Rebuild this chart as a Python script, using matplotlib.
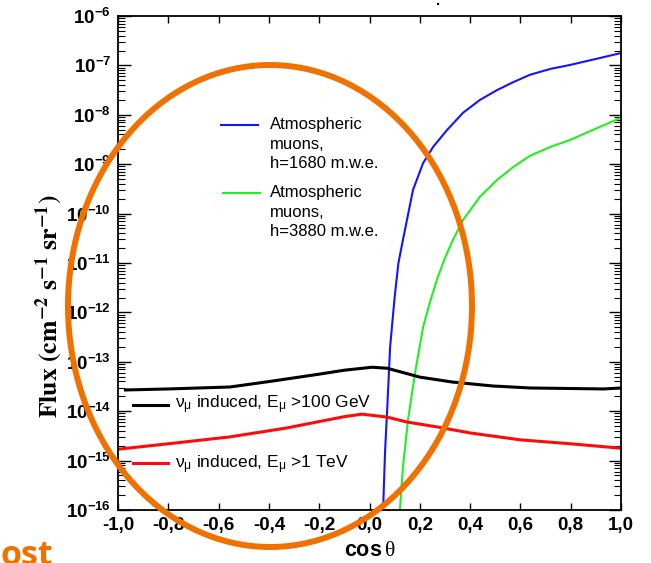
import numpy as np
import matplotlib
matplotlib.use("Agg")
import matplotlib.pyplot as plt
from matplotlib.patches import Ellipse
from matplotlib.ticker import LogLocator, NullFormatter

plt.rcParams["font.family"] = ["Liberation Sans", "DejaVu Sans"]
plt.rcParams["mathtext.fontset"] = "custom"
plt.rcParams["mathtext.rm"] = "Liberation Sans"
plt.rcParams["mathtext.it"] = "Liberation Sans:italic"
plt.rcParams["mathtext.bf"] = "Liberation Sans:bold"
plt.rcParams["mathtext.sf"] = "Liberation Serif"

# atmospheric muons, h=1680 m.w.e.
cos_1680 = [0.054, 0.062, 0.070, 0.082, 0.100, 0.115, 0.133, 0.141, 0.173,
            0.213, 0.253, 0.308, 0.372, 0.439, 0.507, 0.571, 0.638, 0.72,
            0.797, 0.9, 1.0]
flux_1680 = [1.0e-16, 1.58e-15, 1.0e-14, 2.0e-13, 2.04e-12, 1.0e-11, 2.95e-11,
             4.68e-11, 3.02e-10, 1.05e-9, 2.24e-9, 4.90e-9, 1.10e-8, 2.0e-8,
             3.16e-8, 4.57e-8, 6.46e-8, 8.51e-8, 1.02e-7, 1.35e-7, 1.78e-7]

# atmospheric muons, h=3880 m.w.e.
cos_3880 = [0.121, 0.133, 0.153, 0.181, 0.213, 0.24, 0.268, 0.30, 0.332,
            0.372, 0.439, 0.507, 0.571, 0.638, 0.72, 0.797, 0.9, 1.0]
flux_3880 = [1.0e-16, 7.41e-16, 6.61e-15, 5.89e-14, 5.01e-13, 1.58e-12,
             4.57e-12, 1.26e-11, 2.95e-11, 7.41e-11, 2.19e-10, 4.79e-10,
             8.71e-10, 1.48e-9, 2.24e-9, 3.09e-9, 5.25e-9, 8.71e-9]

# neutrino induced muons, E > 100 GeV
cos_nu100 = [-0.97, -0.8, -0.555, -0.4, -0.2, -0.1, 0.01, 0.07, 0.2, 0.33,
             0.49, 0.64, 0.8, 0.93, 1.0]
flux_nu100 = [2.69e-14, 2.82e-14, 3.09e-14, 3.98e-14, 5.62e-14, 6.76e-14,
              7.76e-14, 7.41e-14, 4.90e-14, 3.89e-14, 3.24e-14, 2.95e-14,
              2.88e-14, 2.82e-14, 2.95e-14]

# neutrino induced muons, E > 1 TeV
cos_nu1tev = [-1.0, -0.8, -0.555, -0.33, -0.2, -0.1, -0.03, 0.07, 0.15,
              0.27, 0.4, 0.6, 0.8, 1.0]
flux_nu1tev = [1.70e-15, 2.19e-15, 3.02e-15, 4.57e-15, 6.17e-15, 7.76e-15,
               8.71e-15, 7.59e-15, 6.03e-15, 4.79e-15, 3.63e-15, 2.63e-15,
               2.19e-15, 1.78e-15]

xtick_vals = [-1.0, -0.8, -0.6, -0.4, -0.2, 0.0, 0.2, 0.4, 0.6, 0.8, 1.0]
xtick_labels = ["-1,0", "-0,8", "-0,6", "-0,4", "-0,2", "0,0",
                "0,2", "0,4", "0,6", "0,8", "1,0"]
ytick_exps = list(range(-16, -5))

fig = plt.figure(figsize=(6.51, 5.63), dpi=100)
ax = fig.add_axes([118 / 651, 53 / 563, 503 / 651, 494 / 563])

ax.plot(cos_1680, flux_1680, color="#1414ff", lw=1.5)
ax.plot(cos_3880, flux_3880, color="#22ee22", lw=1.5)
ax.plot(cos_nu100, flux_nu100, color="black", lw=2.2)
ax.plot(cos_nu1tev, flux_nu1tev, color="#ff0a0a", lw=2.2)

ax.set_yscale("log")
ax.set_xlim(-1, 1)
ax.set_ylim(1e-16, 1e-6)

ax.set_xticks(xtick_vals)
ax.set_xticklabels(xtick_labels, fontsize=13.5, fontweight="bold")
ax.set_yticks([10.0 ** e for e in ytick_exps])
ax.set_yticklabels([r"$\mathbf{10^{%d}}$" % e for e in ytick_exps], fontsize=13.5)
ax.yaxis.set_minor_locator(LogLocator(base=10, subs=np.arange(2, 10), numticks=20))
ax.yaxis.set_minor_formatter(NullFormatter())

ax.tick_params(axis="x", which="major", direction="in", top=True, length=5,
               width=1, pad=5)
ax.tick_params(axis="y", which="major", direction="in", right=True, length=9,
               width=1, pad=5)
ax.tick_params(axis="y", which="minor", direction="in", right=True, length=5,
               width=0.8)
for sp in ax.spines.values():
    sp.set_linewidth(1.3)

# in-plot legend
tr = ax.transAxes
ax.plot([0.205, 0.279], [0.779, 0.779], transform=tr, color="#1414ff", lw=1.5)
ax.text(0.302, 0.7955, "Atmospheric\nmuons,\nh=1680 m.w.e.", transform=tr,
        fontsize=12, va="top", ha="left", linespacing=1.38)
ax.plot([0.209, 0.282], [0.642, 0.642], transform=tr, color="#22ee22", lw=1.5)
ax.text(0.302, 0.658, "Atmospheric\nmuons,\nh=3880 m.w.e.", transform=tr,
        fontsize=12, va="top", ha="left", linespacing=1.38)
ax.plot([0.030, 0.099], [0.2126, 0.2126], transform=tr, color="black", lw=2.2)
ax.text(0.113, 0.2065, r"$\mathrm{\nu_{\mu}}$ induced, E$_\mathrm{\mu}$ >100 GeV",
        transform=tr, fontsize=12.5, va="baseline", ha="left")
ax.plot([0.030, 0.099], [0.095, 0.095], transform=tr, color="#ff0a0a", lw=2.2)
ax.text(0.113, 0.085, r"$\mathrm{\nu_{\mu}}$ induced, E$_\mathrm{\mu}$ >1 TeV",
        transform=tr, fontsize=12.5, va="baseline", ha="left")

# axis titles
fig.text(370 / 651, 1 - 550 / 563, r"$\mathbf{cos}\,\mathsf{\theta}$",
         fontsize=15.5, ha="center", va="center")
fig.text(49 / 651, 1 - 306 / 563,
         r"$\mathbf{Flux\ (cm^{-2}\ s^{-1}\ sr^{-1})}$",
         math_fontfamily="stix", fontsize=18.5, rotation=90,
         ha="center", va="center")
fig.text(438 / 651, 1 - 1 / 563, ".", fontsize=11, fontweight="bold",
         ha="center", va="center")

# highlight ring and caption
ring = Ellipse((270 / 651, 1 - 306 / 563), 404 / 651, 482 / 563,
               transform=fig.transFigure, fill=False, edgecolor="#f07100",
               lw=4.3, zorder=10)
fig.patches.append(ring)
fig.text(0.0, -2 / 563, "ost", color="#f07100", fontsize=24.5,
         fontweight="bold", family="Open Sans", ha="left", va="baseline")

fig.savefig("out.png", dpi=100)
